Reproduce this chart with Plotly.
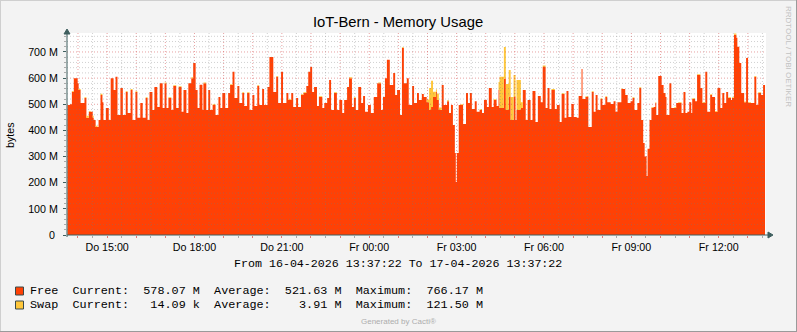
import pandas as pd
import plotly.graph_objects as go

# ---------------- data ----------------
start = pd.Timestamp("2026-04-16 13:37:22")
end = pd.Timestamp("2026-04-17 13:37:22")

# minutes after start for each sample
minutes = [
    1, 6, 10, 14, 18, 22, 24, 28, 32, 36, 40, 45, 49, 53, 55, 59, 63, 65, 69, 73, 75, 80, 84, 86, 90, 94, 96, 100,
    104, 110, 115, 121, 125, 131, 135, 141, 145, 151, 156, 162, 166, 170, 176, 180, 186, 191, 197, 201, 205, 209,
    215, 219, 225, 230, 236, 240, 246, 250, 256, 260, 265, 269, 273, 279, 281, 287, 291,
    295, 300, 306, 312, 316, 320, 326, 332, 336, 341, 345, 351, 355, 361, 365, 371, 376, 382, 386, 392, 396, 402,
    406, 413, 417, 421, 425, 431, 435, 441, 445, 452, 456, 462, 466, 472, 476, 482, 487, 493, 497, 501, 505, 509,
    515, 519, 526, 530, 536, 540, 544, 550, 556, 561, 567, 571, 577, 581, 587, 591,
    595, 600, 606, 610, 614, 620, 626, 632, 639, 641, 647, 651, 655, 659, 661, 665, 672, 676, 680, 686, 690, 694,
    700, 704, 711, 715, 721, 725, 731, 735, 741, 746, 750, 754, 760, 762, 766, 772, 776, 783, 787, 791, 795, 799,
    801, 803, 807, 811, 816, 822, 826, 830, 834, 840, 844, 850, 855, 859, 865, 869, 875, 879, 885, 889,
    891, 896, 900, 904, 908, 910, 914, 918, 920, 924, 926, 931, 935, 939, 945, 949, 955, 959, 965, 970, 976, 980,
    986, 990, 994, 998, 1005, 1009, 1015, 1019, 1025, 1029, 1033, 1039, 1044, 1050, 1054, 1060, 1062, 1068, 1074,
    1081, 1085, 1089, 1093, 1099, 1103, 1109, 1113, 1120, 1126, 1130, 1134, 1142, 1144, 1150, 1155, 1161, 1165,
    1169, 1175, 1179, 1183, 1187,
    1190, 1194, 1196, 1200, 1204, 1208, 1212, 1214, 1218, 1222, 1225, 1229, 1233, 1235, 1241, 1245, 1251, 1255,
    1259, 1266, 1270, 1274, 1278, 1282, 1286, 1288, 1294, 1298, 1305, 1309, 1315, 1319, 1325, 1329, 1335, 1340,
    1346, 1350, 1354, 1358, 1362, 1368, 1370, 1374, 1379, 1381, 1385, 1389, 1395, 1399, 1403, 1409, 1411, 1416,
    1420, 1424, 1430, 1434, 1438,
]

# Free memory (millions of bytes)
free_m = [
    497, 500, 548, 600, 600, 580, 555, 505, 505, 524, 448, 471, 471, 448, 440, 413, 413, 440, 535, 508, 440, 486, 486, 440, 600, 600, 555, 605,
    459, 562, 459, 547, 467, 555, 440, 547, 448, 505, 448, 524, 440, 547, 478, 566, 490, 580, 486, 580, 486, 524,
    478, 570, 486, 566, 471, 555, 467, 580, 600, 658, 555, 486, 575, 478, 580, 478, 555,
    478, 497, 459, 528, 486, 543, 486, 543, 574, 624, 524, 570, 505, 543, 493, 543, 478, 535, 493, 570, 497, 558,
    497, 566, 681, 681, 547, 605, 505, 624, 505, 543, 516, 543, 490, 524, 490, 535, 543, 570, 624, 643, 547, 566,
    493, 528, 486, 505, 524, 593, 478, 543, 478, 516, 467, 516, 566, 600, 490, 524,
    478, 566, 505, 532, 471, 497, 467, 528, 580, 580, 478, 528, 600, 670, 670, 574, 620, 535, 555, 459, 715, 580,
    600, 497, 570, 505, 543, 516, 539, 528, 508, 478, 490, 528, 547, 516, 478, 574, 497, 512, 467, 497, 421, 314,
    203, 314, 497, 497, 425, 543, 505, 543, 482, 512, 471, 478, 467, 516, 490, 562, 490, 516, 493, 555,
    486, 486, 598, 478, 478, 530, 440, 440, 528, 440, 478, 478, 486, 555, 440, 516, 440, 551, 432, 532, 508, 643,
    486, 562, 482, 555, 482, 497, 432, 539, 448, 551, 451, 501, 451, 448, 532, 635, 520, 528, 413,
    547, 471, 535, 478, 520, 497, 528, 508, 501, 512, 471, 508, 558, 558, 535, 505, 512, 524,
    478, 505, 562, 440, 352,
    300, 226, 330, 440, 486, 490, 505, 459, 608, 608, 574, 543, 528, 459, 580, 486, 486, 505,
    505, 467, 547, 467, 471, 508, 467, 520, 512, 612, 562, 505, 624, 471, 535, 528, 471, 562,
    486, 543, 505, 547, 524, 516, 524, 766, 754, 720, 658, 543, 508, 677, 505, 505, 505, 605,
    497, 543, 535, 574, 578,
]

# Swap (millions of bytes), stacked on top of Free
swap_m = [
    0, 0, 3, 0, 0, 0, 3, 0, 0, 3, 8, 3, 0, 8, 0, 5, 0, 0, 5, 0, 0, 0, 0, 0, 0, 0, 0, 0,
    0, 0, 0, 3, 0, 3, 0, 3, 0, 0, 0, 3, 0, 0, 0, 0, 0, 0, 0, 3, 0, 3,
    0, 3, 0, 3, 0, 0, 0, 0, 3, 0, 0, 0, 0, 0, 3, 0, 0,
    0, 3, 0, 0, 0, 0, 0, 0, 3, 0, 0, 0, 0, 3, 0, 3, 0, 0, 0, 3, 0, 0,
    0, 0, 0, 0, 0, 3, 0, 0, 0, 0, 3, 0, 0, 0, 0, 3, 3, 0, 0, 0, 0, 0,
    0, 3, 0, 0, 0, 0, 0, 3, 0, 0, 0, 0, 0, 3, 0, 3,
    0, 0, 0, 0, 0, 0, 0, 0, 0, 3, 0, 0, 0, 0, 0, 0, 0, 0, 0, 0, 3, 0,
    0, 0, 0, 0, 0, 0, 0, 0, 10, 84, 100, 20, 10, 25, 10, 0, 0, 3, 0, 0, 0, 0,
    0, 0, 0, 3, 0, 0, 0, 0, 0, 0, 0, 3, 0, 0, 0, 0, 0, 3, 0, 30,
    119, 119, 121, 100, 100, 101, 88, 88, 84, 0, 115, 115, 22, 0, 0, 0, 0, 0, 0, 0, 0, 5,
    0, 0, 0, 3, 0, 0, 0, 3, 0, 0, 0, 0, 0, 0, 0, 0, 0, 3, 0,
    3, 0, 0, 0, 3, 0, 3, 0, 0, 0, 0, 0, 3, 0, 0, 0, 0, 3,
    0, 0, 3, 0, 0,
    0, 0, 0, 0, 3, 0, 3, 0, 0, 0, 0, 0, 0, 0, 0, 0, 3, 0,
    3, 0, 0, 0, 0, 0, 0, 3, 0, 3, 0, 3, 0, 0, 3, 0, 3, 0,
    0, 0, 0, 0, 3, 0, 3, 5, 0, 0, 0, 0, 3, 0, 3, 0, 0, 3,
    0, 3, 0, 0, 0,
]

y_tick_values = [0, 100, 200, 300, 400, 500, 600, 700]          # millions
y_tick_labels = ["0\u00a0", "100 M", "200 M", "300 M", "400 M", "500 M", "600 M", "700 M"]
x_label_hours = ["2026-04-16 15:00", "2026-04-16 18:00", "2026-04-16 21:00", "2026-04-17 00:00",
                 "2026-04-17 03:00", "2026-04-17 06:00", "2026-04-17 09:00", "2026-04-17 12:00"]
x_label_texts = ["Do 15:00", "Do 18:00", "Do 21:00", "Fr 00:00", "Fr 03:00", "Fr 06:00", "Fr 09:00", "Fr 12:00"]

legend_rows = [
    ("Free", "578.07 M", "521.63 M", "766.17 M", "#FF4105"),
    ("Swap", " 14.09 k", "  3.91 M", "121.50 M", "#FFC73B"),
]

FREE_COLOR = "#FF4105"
SWAP_COLOR = "#FFC73B"

# ---------------- figure ----------------
W, H = 797, 332
ML, MR, MT, MB = 67, 31, 33, 97
PW, PH = W - ML - MR, H - MT - MB
YMAX = 772.6e6

times = [start + pd.Timedelta(minutes=m) for m in minutes]
free_b = [v * 1e6 for v in free_m]
swap_b = [v * 1e6 for v in swap_m]

fig = go.Figure()
fig.add_trace(go.Scatter(x=times, y=free_b, mode="lines", line=dict(width=0, shape="hv"),
                         fillcolor=FREE_COLOR, stackgroup="one", hoverinfo="skip", name="Free"))
fig.add_trace(go.Scatter(x=times, y=swap_b, mode="lines", line=dict(width=0, shape="hv"),
                         fillcolor=SWAP_COLOR, stackgroup="one", hoverinfo="skip", name="Swap"))


def pxx(x):
    return (x - ML) / PW


def pxy(y):
    return (H - MB - y) / PH


shapes = []
# grid (drawn above the areas, like rrdtool)
t = pd.Timestamp("2026-04-16 14:00")
while t < end:
    major = t.minute == 0
    shapes.append(dict(type="line", xref="x", yref="paper", x0=t, x1=t, y0=0, y1=1, layer="above",
                       line=dict(color="rgba(210,70,70,0.5)" if major else "rgba(120,120,120,0.35)",
                                 width=1, dash="1px,2px")))
    t += pd.Timedelta(minutes=30)
for v in range(20, 780, 20):
    if v * 1e6 > YMAX:
        break
    major = v % 100 == 0
    shapes.append(dict(type="line", xref="paper", yref="y", x0=0, x1=1, y0=v * 1e6, y1=v * 1e6, layer="above",
                       line=dict(color="rgba(210,70,70,0.5)" if major else "rgba(120,120,120,0.35)",
                                 width=1, dash="1px,2px")))

AX = "#3F5F5F"
# axes with arrows
shapes.append(dict(type="line", xref="paper", yref="paper", x0=pxx(67), x1=pxx(770), y0=pxy(235), y1=pxy(235),
                   line=dict(color=AX, width=1), layer="above"))
shapes.append(dict(type="path", xref="paper", yref="paper",
                   path=f"M {pxx(768)} {pxy(232)} L {pxx(773)} {pxy(235)} L {pxx(768)} {pxy(238)} Z",
                   fillcolor=AX, line=dict(color=AX, width=1), layer="above"))
shapes.append(dict(type="line", xref="paper", yref="paper", x0=pxx(67), x1=pxx(67), y0=pxy(237), y1=pxy(33),
                   line=dict(color=AX, width=1), layer="above"))
shapes.append(dict(type="path", xref="paper", yref="paper",
                   path=f"M {pxx(64)} {pxy(34)} L {pxx(67)} {pxy(29)} L {pxx(70)} {pxy(34)} Z",
                   fillcolor=AX, line=dict(color=AX, width=1), layer="above"))

# image border
shapes.append(dict(type="line", xref="paper", yref="paper", x0=pxx(0), x1=pxx(797), y0=pxy(0.5), y1=pxy(0.5),
                   line=dict(color="#CFCFCF", width=1)))
shapes.append(dict(type="line", xref="paper", yref="paper", x0=pxx(0.5), x1=pxx(0.5), y0=pxy(0), y1=pxy(332),
                   line=dict(color="#CFCFCF", width=1)))
shapes.append(dict(type="line", xref="paper", yref="paper", x0=pxx(0), x1=pxx(797), y0=pxy(331.5), y1=pxy(331.5),
                   line=dict(color="#9A9A9A", width=1)))
shapes.append(dict(type="line", xref="paper", yref="paper", x0=pxx(796.5), x1=pxx(796.5), y0=pxy(0), y1=pxy(332),
                   line=dict(color="#9A9A9A", width=1)))

annotations = []
MONO = "Liberation Mono"
SANS = "Liberation Sans"
NB = "\u00a0"

annotations.append(dict(xref="paper", yref="paper", x=pxx(231.5), y=pxy(263), xanchor="left", yanchor="middle",
                        showarrow=False,
                        text=("From 16-04-2026 13:37:22 To 17-04-2026 13:37:22").replace(" ", NB),
                        font=dict(family=MONO, size=11.65, color="#000000")))
row_y = [291, 305]
for (name, cur, avg, mx, col), yy in zip(legend_rows, row_y):
    txt = f"{name}  Current:  {cur}  Average:  {avg}  Maximum:  {mx}".replace(" ", NB)
    annotations.append(dict(xref="paper", yref="paper", x=pxx(28), y=pxy(yy), xanchor="left", yanchor="middle",
                            showarrow=False, text=txt, font=dict(family=MONO, size=11.8, color="#000000")))
    shapes.append(dict(type="rect", xref="paper", yref="paper", x0=pxx(15.5), x1=pxx(23.5),
                       y0=pxy(yy - 4), y1=pxy(yy + 4), fillcolor=col, line=dict(color="#3A4A4A", width=1)))

annotations.append(dict(xref="paper", yref="paper", x=pxx(10), y=pxy(135), xanchor="center", yanchor="middle",
                        showarrow=False, text="bytes", textangle=-90,
                        font=dict(family=SANS, size=10.7, color="#000000")))
annotations.append(dict(xref="paper", yref="paper", x=pxx(789), y=pxy(56), xanchor="center", yanchor="middle",
                        showarrow=False, text="RRDTOOL / TOBI OETIKER", textangle=90,
                        font=dict(family=SANS, size=8, color="#C2C2C2")))
annotations.append(dict(xref="paper", yref="paper", x=pxx(398), y=pxy(321), xanchor="center", yanchor="middle",
                        showarrow=False, text="Generated by Cacti®",
                        font=dict(family=SANS, size=8, color="#ADADAD")))

hour_ticks = []
t = pd.Timestamp("2026-04-16 14:00")
while t < end:
    hour_ticks.append(t)
    t += pd.Timedelta(hours=1)
label_map = dict(zip([pd.Timestamp(s) for s in x_label_hours], x_label_texts))
hour_text = [label_map.get(h, "") for h in hour_ticks]
half_ticks = [h + pd.Timedelta(minutes=30) for h in hour_ticks if h + pd.Timedelta(minutes=30) < end]

fig.update_layout(
    width=W, height=H,
    margin=dict(l=ML, r=MR, t=MT, b=MB),
    paper_bgcolor="#F3F3F3",
    plot_bgcolor="#FFFFFF",
    showlegend=False,
    title=dict(text="IoT-Bern - Memory Usage", x=398 / W, y=1 - 22 / H, xanchor="center", yanchor="middle",
               xref="container", yref="container",
               font=dict(family=SANS, size=14.8, color="#000000")),
    xaxis=dict(range=[start, end], showgrid=False, zeroline=False, showline=False,
               tickvals=hour_ticks, ticktext=hour_text, ticks="outside", ticklen=2,
               tickcolor="rgba(220,90,90,0.8)", tickfont=dict(family=SANS, size=10.7, color="#000000"),
               minor=dict(tickvals=half_ticks, ticks="outside", ticklen=2, tickcolor="#AAAAAA", showgrid=False),
               fixedrange=True),
    yaxis=dict(range=[0, YMAX], showgrid=False, zeroline=False, showline=False,
               tickvals=[v * 1e6 for v in y_tick_values], ticktext=y_tick_labels,
               ticks="outside", ticklen=3, tickcolor=AX, ticklabelstandoff=3,
               tickfont=dict(family=SANS, size=10.7, color="#000000"),
               minor=dict(dtick=20e6, tick0=0, ticks="outside", ticklen=2, tickcolor="#AAAAAA", showgrid=False),
               fixedrange=True),
    shapes=shapes,
    annotations=annotations,
)

fig.write_html("out.html")
